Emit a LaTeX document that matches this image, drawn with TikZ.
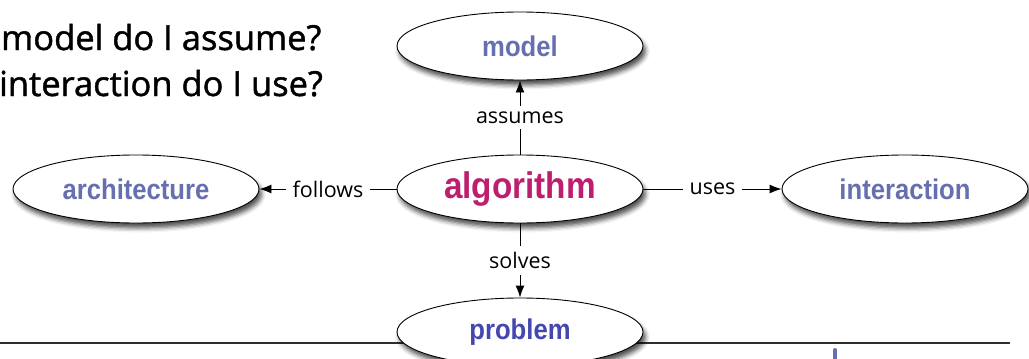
\documentclass[tikz,border=0pt]{standalone}
\usepackage{fontspec}
\setmainfont{Open Sans}
\newfontfamily\headfont{Liberation Sans}
\newfontfamily\askfont[FakeBold=1.3]{Open Sans}
\usetikzlibrary{shapes.geometric,shadows.blur,arrows.meta}

\definecolor{topicblue}{HTML}{6670B0}
\definecolor{probblue}{HTML}{4447B0}
\definecolor{algmagenta}{HTML}{BE1E6E}
\definecolor{rulegray}{HTML}{2E2E2E}

% condensed bold labels inside the ellipses
\newcommand\narrowtext[1]{\scalebox{0.9}[1]{#1}}

\tikzset{
  concept/.style={ellipse, draw=black, line width=0.9pt, fill=white,
    minimum width=246pt, minimum height=68pt, inner sep=0pt,
    blur shadow={shadow xshift=2.5pt, shadow yshift=-5pt,
                 shadow blur radius=4.5pt, shadow opacity=70},
    font=\headfont\bfseries\fontsize{28.5}{28.5}\selectfont, text=topicblue},
  relation/.style={-{Latex[length=12pt,width=9pt]}, line width=0.9pt},
  rellabel/.style={fill=white, font=\fontsize{21.5}{21.5}\selectfont,
    inner xsep=7pt, inner ysep=6pt, text=black},
  question/.style={anchor=base west, font=\askfont\fontsize{34.5}{34.5}\selectfont,
    inner sep=0pt}
}

\begin{document}
\begin{tikzpicture}[x=1pt,y=-1pt]
\useasboundingbox (0,0) rectangle (1029,359);
\clip (0,0) rectangle (1029,359);

% questions at the upper left
\node[question] (qmodel) at (1,50) {model do I assume?};
\node[question] (qinter) at (-1,96) {interaction do I use?};

% separator rule and the small marker below it
\coordinate (ruleL) at (0,343);
\coordinate (ruleR) at (1010,343);
\draw[rulegray, line width=1.5pt] (ruleL) -- (ruleR);
\coordinate (tickT) at (835,350);
\coordinate (tickB) at (835,364);
\draw[topicblue, line width=4pt, line cap=round] (tickT) -- (tickB);

% concepts
\node[concept] (model)   at (520,46)  {\narrowtext{model}};
\node[concept] (arch)    at (136,189) {\narrowtext{architecture}};
\node[concept, font=\headfont\bfseries\fontsize{37}{37}\selectfont,
      text=algmagenta] (algo) at (520,189) {\narrowtext{algorithm}};
\node[concept] (inter)   at (905,189) {\narrowtext{interaction}};
\node[concept, text=probblue] (problem) at (520,332) {\narrowtext{problem}};

% relations
\draw[relation] (algo) -- node[rellabel] {assumes} (model);
\draw[relation] (algo) -- node[rellabel] {follows} (arch);
\draw[relation] (algo) -- node[rellabel] {uses} (inter);
\draw[relation] (algo) -- node[rellabel] {solves} (problem);
\end{tikzpicture}
\end{document}
